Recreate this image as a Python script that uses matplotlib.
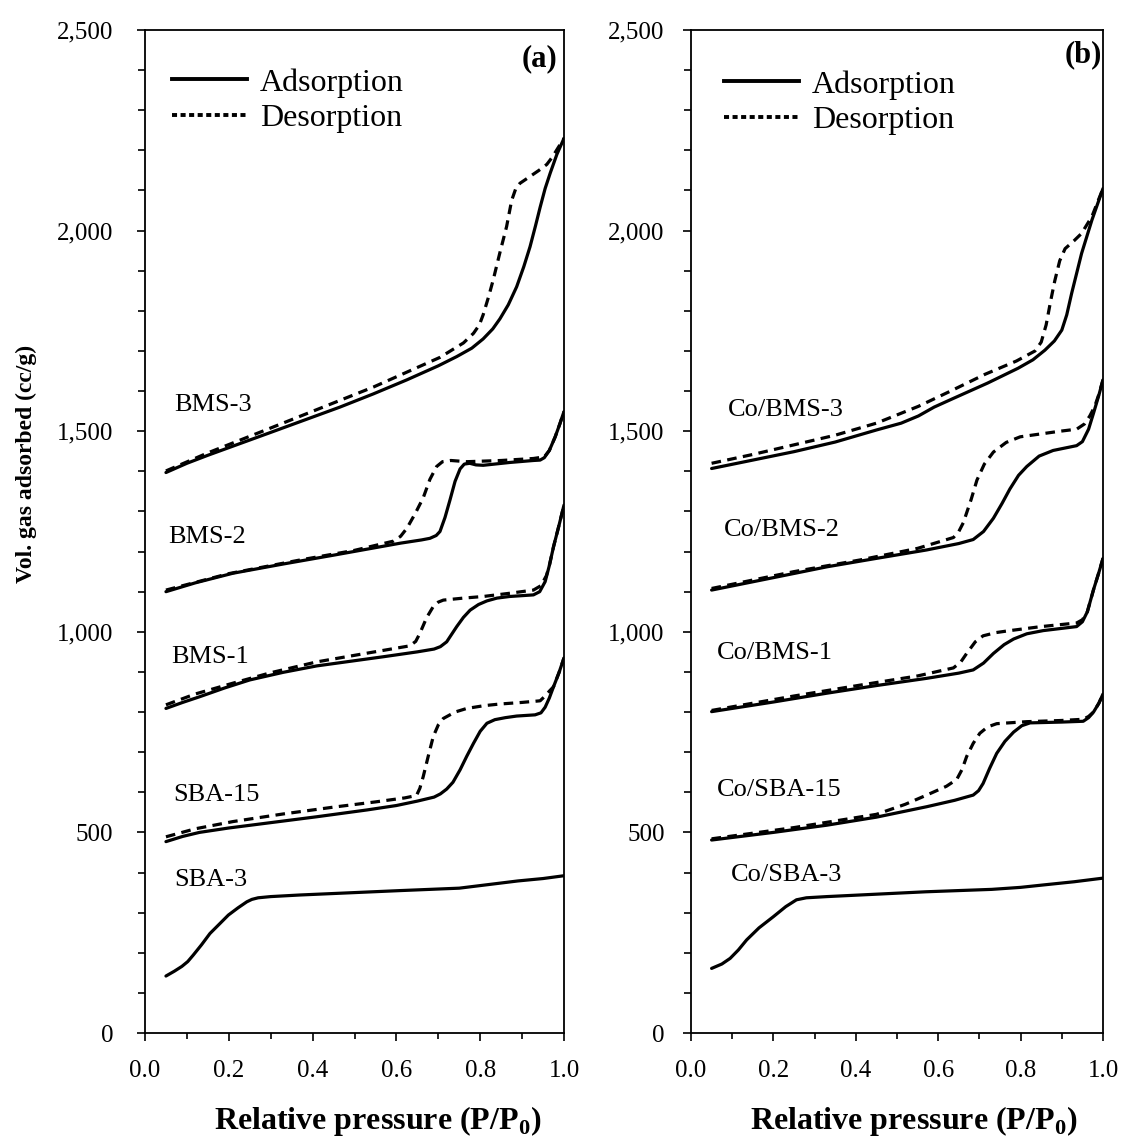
import matplotlib
matplotlib.use("Agg")
import matplotlib.pyplot as plt
from matplotlib.lines import Line2D
from matplotlib.ticker import MultipleLocator, FuncFormatter

# Fonts: Times-like serif everywhere
plt.rcParams['font.family'] = 'Liberation Serif'
plt.rcParams['mathtext.fontset'] = 'custom'
plt.rcParams['mathtext.rm'] = 'Liberation Serif'
plt.rcParams['mathtext.bf'] = 'Liberation Serif:bold'

TICK_SIZE = 18
NAME_SIZE = 19
LEGEND_SIZE = 23
XLABEL_SIZE = 23
YLABEL_SIZE = 17

# ---- Panel (a) isotherms: (P/P0, volume) ----
sba3_ads = [(0.05, 142), (0.07, 154), (0.088, 166), (0.102, 178), (0.115, 194),
            (0.135, 220), (0.155, 248), (0.178, 272), (0.199, 294), (0.222, 312),
            (0.243, 327), (0.255, 333), (0.27, 337), (0.3, 340), (0.37, 344),
            (0.61, 355), (0.75, 361), (0.82, 370), (0.89, 379), (0.95, 385),
            (1.0, 392)]

sba15_ads = [(0.05, 477), (0.09, 490), (0.13, 500), (0.2, 511), (0.29, 523),
             (0.41, 539), (0.53, 556), (0.6, 567), (0.65, 578), (0.69, 588),
             (0.705, 596), (0.72, 608), (0.735, 625), (0.752, 656), (0.768, 690),
             (0.784, 722), (0.8, 752), (0.816, 772), (0.835, 781), (0.86, 786),
             (0.887, 790), (0.931, 793), (0.945, 798), (0.955, 812), (0.965, 835),
             (0.975, 863), (0.988, 898), (1.0, 935)]
sba15_des = [(0.05, 489), (0.12, 509), (0.21, 527), (0.33, 546), (0.45, 563),
             (0.55, 576), (0.62, 586), (0.648, 592), (0.656, 610), (0.664, 639),
             (0.676, 690), (0.688, 739), (0.7, 768), (0.712, 784), (0.74, 800),
             (0.768, 809), (0.81, 816), (0.847, 820), (0.9, 824), (0.943, 828),
             (0.955, 840), (0.965, 852), (0.975, 863), (0.988, 898), (1.0, 935)]

bms1_ads = [(0.05, 809), (0.09, 824), (0.13, 838), (0.19, 860), (0.25, 880),
            (0.33, 899), (0.41, 915), (0.57, 938), (0.65, 950), (0.69, 957),
            (0.705, 963), (0.72, 975), (0.744, 1013), (0.76, 1036), (0.776, 1054),
            (0.796, 1068), (0.816, 1077), (0.84, 1084), (0.87, 1088), (0.927, 1092),
            (0.942, 1100), (0.955, 1125), (0.965, 1165), (0.975, 1212),
            (0.988, 1265), (1.0, 1316)]
bms1_des = [(0.05, 818), (0.12, 845), (0.21, 872), (0.3, 898), (0.41, 925),
            (0.52, 945), (0.632, 965), (0.646, 976), (0.656, 996), (0.672, 1035),
            (0.688, 1063), (0.7, 1074), (0.712, 1079), (0.76, 1084), (0.807, 1088),
            (0.87, 1096), (0.927, 1104), (0.945, 1115), (0.958, 1140),
            (0.965, 1165), (0.975, 1212), (0.988, 1265), (1.0, 1316)]

bms2_ads = [(0.05, 1100), (0.12, 1122), (0.21, 1146), (0.33, 1169), (0.45, 1191),
            (0.61, 1221), (0.66, 1229), (0.68, 1233), (0.695, 1240), (0.704, 1250),
            (0.716, 1285), (0.728, 1329), (0.74, 1375), (0.752, 1406),
            (0.762, 1418), (0.775, 1420), (0.79, 1416), (0.807, 1415),
            (0.87, 1422), (0.927, 1427), (0.943, 1428), (0.953, 1434),
            (0.965, 1452), (0.979, 1486), (0.99, 1518), (1.0, 1549)]
bms2_des = [(0.05, 1104), (0.2, 1145), (0.37, 1179), (0.5, 1203), (0.593, 1226),
            (0.61, 1238), (0.625, 1258), (0.645, 1295), (0.664, 1334),
            (0.68, 1380), (0.696, 1412), (0.71, 1424), (0.73, 1427), (0.768, 1424),
            (0.85, 1427), (0.927, 1432), (0.953, 1436), (0.965, 1452),
            (0.979, 1486), (0.99, 1518), (1.0, 1549)]

bms3_ads = [(0.05, 1397), (0.1, 1420), (0.15, 1440), (0.3, 1497), (0.465, 1560),
            (0.545, 1593), (0.625, 1628), (0.7, 1663), (0.744, 1686), (0.78, 1707),
            (0.807, 1730), (0.83, 1755), (0.847, 1780), (0.867, 1815),
            (0.887, 1860), (0.904, 1910), (0.919, 1960), (0.932, 2012),
            (0.943, 2058), (0.955, 2105), (0.967, 2143), (0.983, 2190), (1.0, 2230)]
bms3_des = [(0.05, 1401), (0.15, 1446), (0.3, 1508), (0.545, 1610), (0.704, 1684),
            (0.76, 1720), (0.784, 1744), (0.798, 1765), (0.807, 1790),
            (0.82, 1835), (0.831, 1877), (0.847, 1945), (0.863, 2010), (0.875, 2075),
            (0.885, 2105), (0.895, 2118), (0.919, 2135), (0.94, 2150),
            (0.959, 2165), (0.972, 2183), (0.985, 2205), (1.0, 2230)]

# ---- Panel (b) isotherms ----
cosba3_ads = [(0.05, 161), (0.075, 172), (0.095, 186), (0.115, 207), (0.135, 232),
              (0.165, 262), (0.2, 290), (0.23, 315), (0.256, 332), (0.28, 337),
              (0.33, 340), (0.57, 352), (0.73, 358), (0.8, 363), (0.855, 369),
              (0.93, 377), (1.0, 386)]

cosba15_ads = [(0.05, 481), (0.2, 500), (0.33, 518), (0.45, 538), (0.572, 564),
               (0.64, 580), (0.685, 593), (0.698, 604), (0.709, 622), (0.725, 660),
               (0.742, 697), (0.762, 727), (0.783, 750), (0.803, 766),
               (0.823, 773), (0.9, 775), (0.952, 777), (0.965, 786), (0.977, 800),
               (0.99, 822), (1.0, 845)]
cosba15_des = [(0.05, 484), (0.25, 512), (0.45, 545), (0.52, 570), (0.572, 593),
               (0.62, 615), (0.645, 632), (0.658, 657), (0.669, 689), (0.685, 722),
               (0.701, 747), (0.72, 763), (0.742, 771), (0.815, 776), (0.9, 779),
               (0.952, 782), (0.965, 789), (0.977, 800), (0.99, 822), (1.0, 845)]

cobms1_ads = [(0.05, 801), (0.2, 825), (0.33, 847), (0.45, 866), (0.572, 884),
              (0.65, 897), (0.685, 905), (0.71, 922), (0.734, 946), (0.76, 968),
              (0.783, 982), (0.815, 995), (0.855, 1003), (0.936, 1013),
              (0.95, 1025), (0.962, 1050), (0.977, 1105), (0.99, 1148), (1.0, 1183)]
cobms1_des = [(0.05, 804), (0.25, 840), (0.41, 867), (0.55, 890), (0.637, 910),
              (0.655, 925), (0.669, 946), (0.69, 975), (0.709, 990), (0.74, 998),
              (0.774, 1003), (0.85, 1013), (0.936, 1022), (0.95, 1030),
              (0.962, 1050), (0.977, 1105), (0.99, 1148), (1.0, 1183)]

cobms2_ads = [(0.05, 1104), (0.2, 1135), (0.33, 1162), (0.45, 1183), (0.572, 1204),
              (0.65, 1220), (0.685, 1230), (0.71, 1250), (0.734, 1283),
              (0.755, 1320), (0.774, 1356), (0.795, 1390), (0.815, 1412),
              (0.845, 1438), (0.879, 1452), (0.936, 1464), (0.95, 1474),
              (0.965, 1505), (0.977, 1545), (0.99, 1590), (1.0, 1628)]
cobms2_des = [(0.05, 1108), (0.25, 1150), (0.41, 1179), (0.55, 1208), (0.637, 1235),
              (0.65, 1250), (0.661, 1272), (0.68, 1330), (0.694, 1378),
              (0.712, 1418), (0.734, 1448), (0.765, 1472), (0.799, 1486),
              (0.896, 1500), (0.936, 1505), (0.955, 1518), (0.968, 1538),
              (0.98, 1562), (0.99, 1592), (1.0, 1628)]

cobms3_ads = [(0.05, 1407), (0.15, 1428), (0.25, 1449), (0.35, 1473), (0.45, 1503),
              (0.51, 1520), (0.552, 1538), (0.59, 1560), (0.633, 1580),
              (0.72, 1620), (0.794, 1657), (0.83, 1678), (0.859, 1702),
              (0.882, 1725), (0.9, 1752), (0.912, 1790), (0.924, 1844),
              (0.948, 1943), (0.973, 2026), (1.0, 2105)]
cobms3_des = [(0.05, 1420), (0.15, 1442), (0.25, 1466), (0.35, 1490), (0.45, 1520),
              (0.552, 1562), (0.63, 1600), (0.714, 1642), (0.79, 1675),
              (0.835, 1700), (0.85, 1722), (0.862, 1765), (0.873, 1825),
              (0.883, 1875), (0.895, 1925), (0.908, 1955), (0.93, 1975),
              (0.948, 1993), (0.973, 2035), (1.0, 2105)]

# sample name label: (name, x, y)
labels_a = [("BMS-3", 0.069, 1565), ("BMS-2", 0.055, 1236), ("BMS-1", 0.062, 937),
            ("SBA-15", 0.067, 593), ("SBA-3", 0.069, 381)]
labels_b = [("Co/BMS-3", 0.09, 1553), ("Co/BMS-2", 0.08, 1254),
            ("Co/BMS-1", 0.063, 947), ("Co/SBA-15", 0.063, 606),
            ("Co/SBA-3", 0.097, 394)]

curves_a = [(sba3_ads, None), (sba15_ads, sba15_des), (bms1_ads, bms1_des),
            (bms2_ads, bms2_des), (bms3_ads, bms3_des)]
curves_b = [(cosba3_ads, None), (cosba15_ads, cosba15_des), (cobms1_ads, cobms1_des),
            (cobms2_ads, cobms2_des), (cobms3_ads, cobms3_des)]

W, H = 1122, 1142
fig = plt.figure(figsize=(W / 100, H / 100), dpi=100)
ax_a = fig.add_axes([145 / W, 1 - 1033 / H, 419 / W, 1003 / H])
ax_b = fig.add_axes([691 / W, 1 - 1033 / H, 412 / W, 1003 / H])


def draw_panel(ax, curves, labels, tag, tag_x, tag_y, ypad, leg_x, leg_y):
    for ads, des in curves:
        if des is not None:
            ax.plot([p[0] for p in des], [p[1] for p in des], color='black',
                    lw=2.3, linestyle=(0, (3, 2)), solid_joinstyle='round')
        ax.plot([p[0] for p in ads], [p[1] for p in ads], color='black',
                lw=2.3, solid_joinstyle='round', solid_capstyle='round')
    for name, x, y in labels:
        ax.text(x, y, name, fontsize=NAME_SIZE, ha='left', va='center')

    ax.set_xlim(0, 1.0)
    ax.set_ylim(0, 2500)
    ax.xaxis.set_major_locator(MultipleLocator(0.2))
    ax.xaxis.set_minor_locator(MultipleLocator(0.1))
    ax.yaxis.set_major_locator(MultipleLocator(500))
    ax.yaxis.set_minor_locator(MultipleLocator(100))
    ax.xaxis.set_major_formatter(FuncFormatter(lambda v, p: f"{v:.1f}"))
    ax.yaxis.set_major_formatter(FuncFormatter(lambda v, p: f"{v:,.0f}"))
    ax.tick_params(which='both', direction='out', top=False, right=False,
                   width=1.2, labelsize=TICK_SIZE)
    ax.tick_params(axis='y', which='major', length=6, pad=ypad)
    ax.tick_params(axis='y', which='minor', length=5)
    ax.tick_params(axis='x', which='major', length=5.5, pad=14)
    ax.tick_params(axis='x', which='minor', length=4)
    for s in ax.spines.values():
        s.set_linewidth(1.3)

    ax.text(tag_x, tag_y, tag, transform=ax.transAxes, ha='right', va='top',
            fontsize=22, fontweight='bold')

    handles = [Line2D([], [], color='black', lw=2.8),
               Line2D([], [], color='black', lw=2.8, linestyle=(0, (1.3, 0.9)))]
    ax.legend(handles, ['Adsorption', 'Desorption'], loc='upper left',
              bbox_to_anchor=(leg_x, leg_y), frameon=False, borderpad=0,
              borderaxespad=0, handlelength=2.35, handletextpad=0.4,
              labelspacing=0.2, fontsize=LEGEND_SIZE)


draw_panel(ax_a, curves_a, labels_a, '(a)', 0.985, 0.986, 17, 0.064, 0.962)
draw_panel(ax_b, curves_b, labels_b, '(b)', 0.997, 0.99, 13, 0.08, 0.96)

xlabel = 'Relative pressure (P/P$_\\mathbf{0}$)'
ax_a.set_xlabel(xlabel, fontsize=XLABEL_SIZE, fontweight='bold', va='center')
ax_a.xaxis.set_label_coords(0.555, -0.088)
ax_b.set_xlabel(xlabel, fontsize=XLABEL_SIZE, fontweight='bold', va='center')
ax_b.xaxis.set_label_coords(0.541, -0.088)

fig.text(26 / W, 1 - 464 / H, 'Vol. gas adsorbed (cc/g)', rotation=90,
         ha='center', va='center', fontsize=YLABEL_SIZE, fontweight='bold')

fig.savefig('out.png', dpi=100)
